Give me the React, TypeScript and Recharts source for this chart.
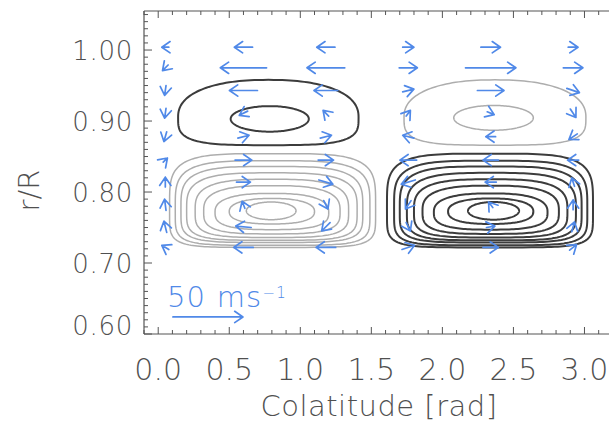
import React from 'react';
import { ScatterChart, Scatter, XAxis, YAxis, ReferenceArea } from 'recharts';

// ---------- axes ----------
const xMajorTicks = [0, 0.5, 1.0, 1.5, 2.0, 2.5, 3.0];
const xTickLabels = ['0.0', '0.5', '1.0', '1.5', '2.0', '2.5', '3.0'];
const yMajorTicks = [0.6, 0.7, 0.8, 0.9, 1.0];
const yTickLabels = ['0.60', '0.70', '0.80', '0.90', '1.00'];
const xDomain: [number, number] = [-0.1, 3.25];
const yDomain: [number, number] = [0.6, 1.055];
const xLabel = 'Colatitude [rad]';
const yLabel = 'r/R';

// ---------- stream-function contours: [theta0, theta1, r0, r1] ----------
const northUpperContours = [
  [0.14, 1.41, 0.866, 0.958],
  [0.51, 1.06, 0.885, 0.921],
];
const northLowerContours = [
  [0.08, 1.53, 0.722, 0.854],
  [0.12, 1.49, 0.725, 0.844],
  [0.16, 1.44, 0.729, 0.836],
  [0.2, 1.4, 0.732, 0.827],
  [0.26, 1.34, 0.736, 0.818],
  [0.32, 1.28, 0.741, 0.809],
  [0.4, 1.2, 0.747, 0.798],
  [0.5, 1.1, 0.755, 0.791],
  [0.62, 0.97, 0.761, 0.786],
];
const southUpperContours = [
  [1.73, 3.01, 0.866, 0.958],
  [2.08, 2.64, 0.887, 0.922],
];
const southLowerContours = [
  [1.61, 3.06, 0.722, 0.854],
  [1.66, 3.02, 0.725, 0.844],
  [1.7, 2.98, 0.729, 0.836],
  [1.75, 2.94, 0.732, 0.827],
  [1.8, 2.88, 0.736, 0.818],
  [1.86, 2.82, 0.741, 0.809],
  [1.94, 2.74, 0.747, 0.798],
  [2.04, 2.64, 0.755, 0.791],
  [2.18, 2.54, 0.761, 0.786],
];

// ---------- velocity field (m/s) ----------
const arrowTheta = [0.05, 0.6, 1.18, 1.76, 2.34, 2.92];
const arrowR = [1.004, 0.975, 0.943, 0.911, 0.878, 0.845, 0.814, 0.782, 0.751, 0.722];
const vTheta = [
  [-5, -4, -1, -1, -2, 3, 0, -1, -2, -5],
  [-13, -33, -20, -6, 8, 12, 10, -2, -11, -14],
  [-13, -27, -17, -4, 8, 11, 10, 3, -6, -14],
  [8, 13, 8, 3, -8, -12, -10, -4, 3, 9],
  [14, 36, 19, 5, -7, -11, -8, -3, 6, 11],
  [7, 14, 9, 4, -6, -8, -2, 0, 2, 5],
];
const vRadial = [
  [0, -4, -7, -7, -7, 3, 7, 8, 8, 3],
  [0, 0, 0, -3, 2, 0, 0, 5, 1, 0],
  [0, 0, 0, 4, 2, 0, -3, -6, -6, 0],
  [0, 0, 2, 4, 2, 0, -3, -6, -6, 3],
  [0, 0, 0, -2, 0, 0, 0, 4, 1, 0],
  [0, 0, -3, -6, -4, 0, 6, 7, 7, 4],
];
const referenceSpeed = 50;
const referenceLabel = '50 ms';
const referenceExp = '\u22121';

// ---------- styling ----------
const AXIS = '#555';
const TEXT = '#505050';
const BLUE = '#5089e8';
const GRAY = '#adadad';
const DARK = '#3c3c3c';
const PX_PER_MS = 1.4;
const FONT = 'DejaVu Sans';
const FW = 200;

const arrowData = arrowTheta.flatMap((t, ci) =>
  arrowR.map((r, ri) => ({ theta: t, r, u: vTheta[ci][ri], w: vRadial[ci][ri] }))
);
const refArrowData = [{ theta: 0.35, r: 0.624, u: referenceSpeed, w: 0 }];

const xMinor: number[] = [];
for (let k = -1; k <= 32; k++) xMinor.push(Math.round(k * 10) / 100);
const yMinor: number[] = [];
for (let k = 60; k <= 105; k++) yMinor.push(k / 100);

const isMajor = (list: number[], v: number) => list.findIndex((m) => Math.abs(m - v) < 1e-6);

const XTickBottom = (props: any) => {
  const { x, y, payload } = props;
  const mi = isMajor(xMajorTicks, payload.value);
  return (
    <g>
      <line x1={x} x2={x} y1={y} y2={y - (mi >= 0 ? 7 : 4)} stroke={AXIS} strokeWidth={1} />
      {mi >= 0 && (
        <text x={x} y={y + 46} textAnchor="middle" fill={TEXT} fontSize={30} fontWeight={FW} fontFamily={FONT}>
          {xTickLabels[mi]}
        </text>
      )}
    </g>
  );
};

const XTickTop = (props: any) => {
  const { x, y, payload } = props;
  const mi = isMajor(xMajorTicks, payload.value);
  return <line x1={x} x2={x} y1={y} y2={y + (mi >= 0 ? 7 : 4)} stroke={AXIS} strokeWidth={1} />;
};

const YTick = (props: any) => {
  const { x, y, payload } = props;
  const mi = isMajor(yMajorTicks, payload.value);
  const shift = mi === 0 ? -9 : 0;
  return (
    <g>
      <line x1={x} x2={x + (mi >= 0 ? 8 : 4)} y1={y} y2={y} stroke={AXIS} strokeWidth={1} />
      {mi >= 0 && (
        <text x={x - 11} y={y + 9.5 + shift} textAnchor="end" fill={TEXT} fontSize={26} fontWeight={FW} fontFamily={FONT} letterSpacing={0.7}>
          {yTickLabels[mi]}
        </text>
      )}
    </g>
  );
};

const ContourShape = (props: any) => {
  const { x, y, width, height, color, sw, nTop, nBot, split } = props;
  if (!(width > 0) || !(height > 0)) return null;
  const cx = x + width / 2;
  const a = width / 2;
  const ys = y + height * split;
  const bt = height * split;
  const bb = height * (1 - split);
  const N = 160;
  let d = '';
  for (let i = 0; i <= N; i++) {
    const t = (i / N) * 2 * Math.PI;
    const c = Math.cos(t);
    const s = Math.sin(t);
    const n = s < 0 ? nTop : nBot;
    const px = cx + a * Math.sign(c) * Math.pow(Math.abs(c), 2 / n);
    const py = ys + (s < 0 ? bt : bb) * Math.sign(s) * Math.pow(Math.abs(s), 2 / n);
    d += (i === 0 ? 'M' : 'L') + px.toFixed(2) + ',' + py.toFixed(2);
  }
  return <path d={d + 'Z'} fill="none" stroke={color} strokeWidth={sw} />;
};

const upperStyle = (i: number) =>
  i === 0 ? { nTop: 2.3, nBot: 3.6, split: 0.57 } : { nTop: 2, nBot: 2, split: 0.5 };
const lowerStyle = (i: number, n: number) => {
  const f = i / (n - 1);
  const nTop = 4.2 - 2.2 * f;
  return { nTop, nBot: nTop + 1.4 * (1 - f), split: 0.58 - 0.08 * f };
};

const renderContours = (list: number[][], color: string, sw: number, kind: string, key: string) =>
  list.map((c, i) => {
    const st = kind === 'upper' ? upperStyle(i) : lowerStyle(i, list.length);
    return (
      <ReferenceArea
        key={key + i}
        xAxisId="b"
        yAxisId="l"
        x1={c[0]}
        x2={c[1]}
        y1={c[2]}
        y2={c[3]}
        ifOverflow="visible"
        shape={(p: any) => <ContourShape {...p} color={color} sw={sw} {...st} />}
      />
    );
  });

const arrowPath = (cx: number, cy: number, u: number, w: number) => {
  const dx = u * PX_PER_MS;
  const dy = -w * PX_PER_MS;
  const x0 = cx - dx / 2;
  const y0 = cy - dy / 2;
  const x1 = cx + dx / 2;
  const y1 = cy + dy / 2;
  const ang = Math.atan2(dy, dx);
  const hl = 10;
  const ha = 0.6;
  const hx1 = x1 - hl * Math.cos(ang - ha);
  const hy1 = y1 - hl * Math.sin(ang - ha);
  const hx2 = x1 - hl * Math.cos(ang + ha);
  const hy2 = y1 - hl * Math.sin(ang + ha);
  return { d: `M${x0},${y0}L${x1},${y1}M${hx1},${hy1}L${x1},${y1}L${hx2},${hy2}`, x0 };
};

const ArrowShape = (props: any) => {
  const { cx, cy, payload } = props;
  const { d } = arrowPath(cx, cy, payload.u, payload.w);
  return <path d={d} fill="none" stroke={BLUE} strokeWidth={1.7} strokeLinecap="round" strokeLinejoin="round" />;
};

const RefArrowShape = (props: any) => {
  const { cx, cy, payload } = props;
  const { d, x0 } = arrowPath(cx, cy, payload.u, payload.w);
  return (
    <g>
      <path d={d} fill="none" stroke={BLUE} strokeWidth={1.7} strokeLinecap="round" strokeLinejoin="round" />
      <text x={x0 - 6} y={cy - 10} fill={BLUE} fontSize={29} fontWeight={FW} fontFamily={FONT} letterSpacing={1.2}>
        {referenceLabel}
        <tspan dy={-9} fontSize={15}>
          {referenceExp}
        </tspan>
      </text>
    </g>
  );
};

const XAxisLabel = (props: any) => {
  const vb = props.viewBox || { x: 144, y: 334, width: 476, height: 92 };
  return (
    <text x={vb.x + vb.width / 2 - 3} y={vb.y + 82} textAnchor="middle" fill={TEXT} fontSize={29} fontWeight={FW} fontFamily={FONT} letterSpacing={0.5}>
      {xLabel}
    </text>
  );
};

const YAxisLabel = (props: any) => {
  const vb = props.viewBox || { x: 0, y: 11, width: 144, height: 323 };
  const cx = 39;
  const cy = vb.y + vb.height / 2 + 18;
  return (
    <text x={cx} y={cy} transform={`rotate(-90, ${cx}, ${cy})`} textAnchor="middle" fill={TEXT} fontSize={29} fontWeight={FW} fontFamily={FONT}>
      {yLabel}
    </text>
  );
};

export default function App() {
  return (
    <div style={{ position: 'absolute', left: 0, top: 0, width: 609, height: 426, overflow: 'hidden', background: '#fff' }}>
      <ScatterChart width={625} height={426} margin={{ top: 10, right: 5, bottom: 0, left: 0 }}>
        <XAxis
          xAxisId="b"
          type="number"
          dataKey="theta"
          domain={xDomain}
          allowDataOverflow
          ticks={xMinor}
          interval={0}
          tickSize={0}
          tickMargin={0}
          tickLine={false}
          tick={<XTickBottom />}
          height={92}
          axisLine={{ stroke: AXIS, strokeWidth: 1.2 }}
          label={<XAxisLabel />}
        />
        <XAxis
          xAxisId="t"
          orientation="top"
          type="number"
          dataKey="theta"
          domain={xDomain}
          allowDataOverflow
          ticks={xMinor}
          interval={0}
          tickSize={0}
          tickMargin={0}
          tickLine={false}
          tick={<XTickTop />}
          height={1}
          axisLine={{ stroke: AXIS, strokeWidth: 1.2 }}
        />
        <YAxis
          yAxisId="l"
          type="number"
          dataKey="r"
          domain={yDomain}
          allowDataOverflow
          ticks={yMinor}
          interval={0}
          tickSize={0}
          tickMargin={0}
          tickLine={false}
          tick={<YTick />}
          width={144}
          axisLine={{ stroke: AXIS, strokeWidth: 1.2 }}
          label={<YAxisLabel />}
        />
        {renderContours(northLowerContours, GRAY, 1.5, 'lower', 'nl')}
        {renderContours(southUpperContours, GRAY, 1.5, 'upper', 'su')}
        {renderContours(northUpperContours, DARK, 2, 'upper', 'nu')}
        {renderContours(southLowerContours, DARK, 2, 'lower', 'sl')}
        <Scatter xAxisId="b" yAxisId="l" data={arrowData} shape={ArrowShape} isAnimationActive={false} />
        <Scatter xAxisId="b" yAxisId="l" data={refArrowData} shape={RefArrowShape} isAnimationActive={false} />
      </ScatterChart>
    </div>
  );
}
